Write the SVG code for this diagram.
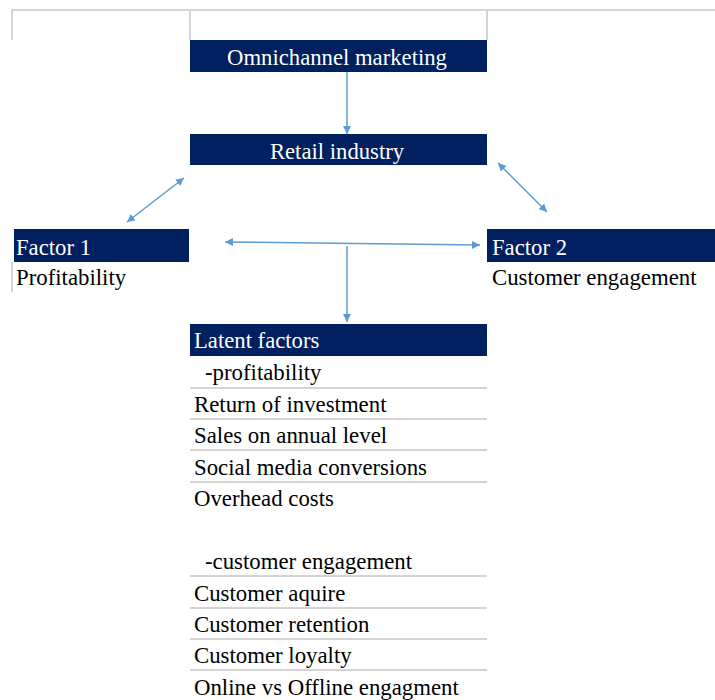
<svg xmlns="http://www.w3.org/2000/svg" width="715" height="700" viewBox="0 0 715 700">
<style>
.hdr{fill:#002060}
.ht{fill:#ffffff;font-family:"Liberation Serif","Times New Roman",serif;font-size:22.7px}
.t{fill:#000000;font-family:"Liberation Serif","Times New Roman",serif;font-size:22.8px}
.grid{stroke:#d4d4d4;stroke-width:2;fill:none}
.con{stroke:#5b9bd5;stroke-width:1.5;fill:none}
</style>
<defs>
<marker id="ah" viewBox="0 0 10 10" refX="10" refY="5" markerWidth="8" markerHeight="8" orient="auto-start-reverse" markerUnits="userSpaceOnUse">
<path d="M0,0 L10,5 L0,10 z" fill="#5b9bd5"/>
</marker>
</defs>
<rect width="715" height="700" fill="#ffffff"/>
<g id="grid">
<path class="grid" d="M12,10 H715 M12,10 V40 M190,10 V40 M487,10 V40 M12,262 V292"/>
</g>
<g id="omnichannel">
<rect class="hdr" x="190" y="40" width="297" height="32"/>
<text class="ht" x="337" y="65" text-anchor="middle">Omnichannel marketing</text>
</g>
<g id="retail">
<rect class="hdr" x="190" y="134" width="297" height="31"/>
<text class="ht" x="337" y="159" text-anchor="middle">Retail industry</text>
</g>
<g id="factor1">
<rect class="hdr" x="14" y="229" width="175" height="33"/>
<text class="ht" x="16" y="255">Factor 1</text>
<text class="t" x="16" y="285">Profitability</text>
</g>
<g id="factor2">
<rect class="hdr" x="487" y="229" width="228" height="33"/>
<text class="ht" x="492" y="255">Factor 2</text>
<text class="t" x="492" y="285">Customer engagement</text>
</g>
<g id="latent">
<rect class="hdr" x="190" y="324" width="297" height="32"/>
<text class="ht" x="194" y="348">Latent factors</text>
<text class="t" x="205" y="380">-profitability</text>
<text class="t" x="194" y="412">Return of investment</text>
<text class="t" x="194" y="443">Sales on annual level</text>
<text class="t" x="194" y="475">Social media conversions</text>
<text class="t" x="194" y="506">Overhead costs</text>
<text class="t" x="205" y="569">-customer engagement</text>
<text class="t" x="194" y="601">Customer aquire</text>
<text class="t" x="194" y="632">Customer retention</text>
<text class="t" x="194" y="663">Customer loyalty</text>
<text class="t" x="194" y="695">Online vs Offline engagment</text>
<path class="grid" d="M190,388 H487 M190,419 H487 M190,450 H487 M190,482 H487 M190,576 H487 M190,608 H487 M190,639 H487 M190,670 H487"/>
</g>
<g id="connectors">
<path class="con" d="M347,72 V134" marker-end="url(#ah)"/>
<path class="con" d="M127,222 L184,178" marker-start="url(#ah)" marker-end="url(#ah)"/>
<path class="con" d="M498,163 L547,212" marker-start="url(#ah)" marker-end="url(#ah)"/>
<path class="con" d="M225,242 L480,245" marker-start="url(#ah)" marker-end="url(#ah)"/>
<path class="con" d="M347,246 V322" marker-end="url(#ah)"/>
</g>
</svg>
